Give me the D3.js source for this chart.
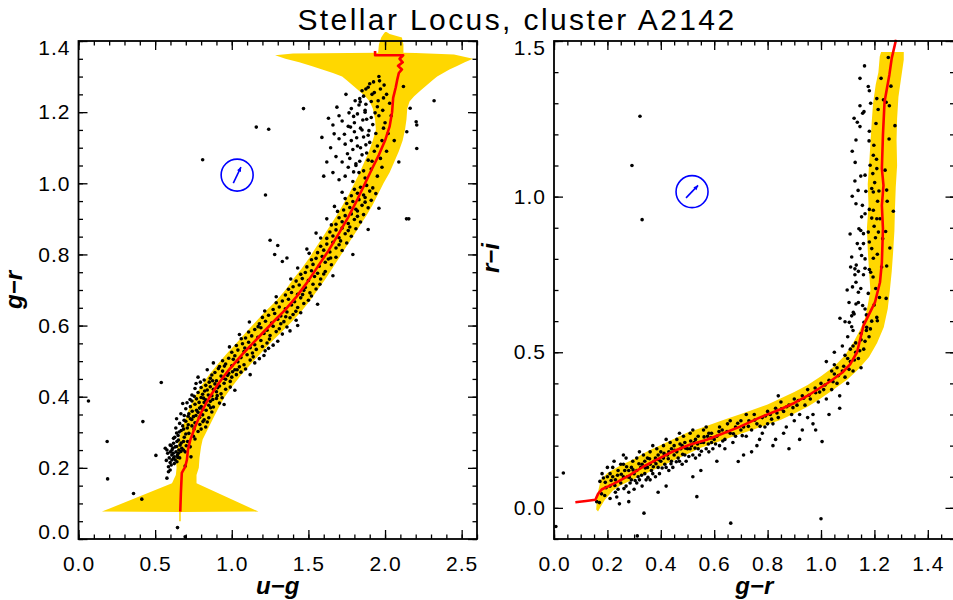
<!DOCTYPE html>
<html>
<head>
<meta charset="utf-8">
<script src="https://cdn.jsdelivr.net/npm/d3@7"></script>
<style>
  body { margin: 0; background: #fff; }
  text { font-family: "Liberation Sans", Arial, sans-serif; }
</style>
</head>
<body>
<svg id="chart" width="953" height="600"></svg>
<script>
// ---- data ----

var title = "Stellar Locus, cluster A2142";

// left panel: u-g vs g-r
var leftXTicks = [0, 0.5, 1.0, 1.5, 2.0, 2.5];
var leftYTicks = [0, 0.2, 0.4, 0.6, 0.8, 1.0, 1.2, 1.4];

// locus band, left edge (bottom -> top) and right edge (top -> bottom), [u-g, g-r]
var leftBandLo = [[0.657,0.05],[0.657,0.076],[0.153,0.077],[0.61,0.157],[0.635,0.18],[0.64,0.20],[0.635,0.23],
  [0.645,0.26],[0.655,0.28],[0.675,0.31],[0.70,0.34],[0.725,0.37],[0.76,0.40],[0.80,0.43],[0.85,0.46],[0.905,0.49],
  [0.965,0.52],[1.03,0.55],[1.09,0.58],[1.155,0.61],[1.22,0.64],[1.29,0.67],[1.35,0.70],[1.40,0.73],[1.455,0.76],
  [1.505,0.79],[1.55,0.82],[1.595,0.85],[1.64,0.88],[1.685,0.91],[1.725,0.94],[1.765,0.97],[1.80,1.00],[1.835,1.03],
  [1.865,1.06],[1.895,1.09],[1.92,1.12],[1.94,1.15],[1.935,1.18],[1.92,1.21],[1.90,1.23],[1.87,1.245],[1.83,1.26],
  [1.79,1.275],[1.75,1.29],[1.72,1.30],[1.66,1.31],[1.59,1.32],[1.52,1.33],[1.44,1.34],[1.35,1.35],[1.283,1.36],
  [1.40,1.365],[1.955,1.367],[1.96,1.39],[1.975,1.41],[1.99,1.42],[2.00,1.425]];
var leftBandHi = [[2.01,1.425],[2.03,1.42],[2.11,1.41],[2.12,1.39],[2.12,1.367],[2.20,1.366],[2.45,1.362],[2.574,1.35],
  [2.52,1.34],[2.47,1.33],[2.42,1.32],[2.38,1.31],[2.34,1.30],[2.31,1.29],[2.27,1.275],[2.23,1.26],[2.19,1.245],
  [2.16,1.23],[2.145,1.21],[2.14,1.18],[2.13,1.15],[2.115,1.12],[2.09,1.09],[2.06,1.06],[2.03,1.03],[1.99,1.00],
  [1.955,0.97],[1.92,0.94],[1.88,0.91],[1.835,0.88],[1.79,0.85],[1.745,0.82],[1.70,0.79],[1.655,0.76],[1.61,0.73],
  [1.56,0.70],[1.51,0.67],[1.455,0.64],[1.39,0.61],[1.32,0.58],[1.25,0.55],[1.185,0.52],[1.12,0.49],[1.06,0.46],
  [1.005,0.43],[0.955,0.40],[0.915,0.37],[0.88,0.34],[0.845,0.31],[0.81,0.28],[0.80,0.26],[0.79,0.23],[0.785,0.20],
  [0.77,0.18],[0.77,0.157],[1.174,0.077],[0.667,0.076],[0.667,0.05]];

// median locus, [u-g, g-r]
var leftLocus = [[0.664,0.077],[0.668,0.13],[0.674,0.186],[0.696,0.203],[0.707,0.222],[0.714,0.25],[0.729,0.278],
  [0.76,0.315],[0.80,0.355],[0.85,0.395],[0.91,0.435],[0.98,0.475],[1.07,0.52],[1.17,0.565],[1.27,0.61],[1.35,0.645],
  [1.42,0.68],[1.49,0.72],[1.56,0.765],[1.63,0.81],[1.70,0.86],[1.76,0.905],[1.82,0.955],[1.87,1.00],[1.92,1.045],
  [1.96,1.08],[2.00,1.12],[2.03,1.16],[2.046,1.20],[2.053,1.24],[2.07,1.27],[2.079,1.29],[2.09,1.31],[2.11,1.32],
  [2.085,1.33],[2.115,1.34],[2.095,1.35],[2.118,1.36],[1.935,1.36],[1.935,1.372]];

// stars, [u-g, g-r]
var leftStars = [
  [0.065,0.388],[0.187,0.274],[0.19,0.169],[0.359,0.128],[0.413,0.112],[0.505,0.235],[0.646,0.032],[0.696,0.006],
  [0.54,0.44],[0.42,0.33],
  [0.566,0.255],[0.577,0.25],[0.598,0.264],[0.62,0.269],[0.631,0.259],[0.642,0.274],[0.663,0.264],[0.674,0.255],
  [0.636,0.245],[0.652,0.241],[0.609,0.236],[0.62,0.227],[0.631,0.222],[0.642,0.217],[0.598,0.215],[0.587,0.203],
  [0.598,0.194],[0.587,0.189],[0.609,0.222],[0.625,0.231],[0.685,0.25],[0.696,0.245],[0.729,0.259],[0.734,0.231],
  [0.696,0.205],[0.577,0.171],[0.652,0.278],[0.685,0.274],[0.61,0.25],[0.64,0.26],[0.655,0.25],[0.67,0.27],
  [0.60,0.245],[0.615,0.255],[0.645,0.235],[0.66,0.228],[0.625,0.212],[0.605,0.208],
  [0.605,0.262],[0.618,0.241],[0.648,0.229],[0.668,0.246],[0.703,0.262],[0.712,0.274],[0.592,0.228],[0.628,0.286],
  [0.657,0.301],[0.686,0.309],[0.716,0.321],[0.739,0.336],[0.754,0.309],[0.792,0.322],[0.812,0.33],[0.689,0.334],
  [0.715,0.345],[0.742,0.359],[0.766,0.347],[0.801,0.372],[0.833,0.362],[0.862,0.369],[0.708,0.383],[0.755,0.401],
  [0.787,0.384],[0.816,0.396],[0.847,0.405],[0.876,0.392],[0.905,0.403],[0.937,0.397],[0.767,0.437],[0.795,0.441],
  [0.823,0.416],[0.853,0.441],[0.875,0.445],[0.908,0.425],[0.943,0.452],[0.973,0.46],[1.005,0.47],[0.84,0.476],
  [0.913,0.479],[0.952,0.486],[0.88,0.495],[1.035,0.476],[0.728,0.392],[0.668,0.352],[0.635,0.312],[0.582,0.241],[0.573,0.221],
  [0.62,0.283],[0.65,0.291],[0.69,0.286],[0.72,0.297],[0.75,0.289],[0.78,0.302],[0.67,0.305],[0.71,0.312],
  [0.74,0.318],[0.64,0.298],[0.80,0.309],[0.70,0.295],[0.76,0.281],[0.83,0.315],[0.68,0.318],
  [0.66,0.325],[0.70,0.331],[0.73,0.338],[0.76,0.327],[0.79,0.342],[0.82,0.335],[0.69,0.347],[0.72,0.352],
  [0.75,0.344],[0.78,0.356],[0.81,0.349],[0.85,0.341],[0.87,0.357],[0.64,0.338],[0.84,0.329],[0.77,0.362],
  [0.70,0.366],[0.73,0.372],[0.76,0.379],[0.79,0.368],[0.82,0.384],[0.85,0.376],[0.88,0.371],[0.74,0.388],
  [0.77,0.394],[0.80,0.398],[0.83,0.391],[0.86,0.387],[0.90,0.395],[0.92,0.382],[0.68,0.381],[0.95,0.378],[0.81,0.364],
  [0.74,0.405],[0.78,0.412],[0.81,0.407],[0.84,0.419],[0.87,0.403],[0.90,0.414],[0.93,0.408],[0.96,0.421],
  [0.80,0.426],[0.83,0.432],[0.86,0.428],[0.89,0.436],[0.92,0.43],[0.95,0.438],[0.99,0.427],[1.02,0.418],[0.76,0.423],[0.88,0.421],
  [0.82,0.447],[0.86,0.452],[0.90,0.445],[0.93,0.458],[0.96,0.449],[1.00,0.455],[1.03,0.462],[0.89,0.468],
  [0.94,0.472],[0.98,0.466],[1.02,0.476],[1.06,0.469],[1.09,0.478],[0.87,0.461],[1.12,0.462],[0.78,0.455],[0.99,0.443],
  [0.92,0.485],[0.96,0.492],[1.00,0.487],[1.04,0.498],[1.08,0.49],[1.12,0.503],[1.15,0.495],[0.98,0.508],
  [1.02,0.515],[1.06,0.51],[1.10,0.518],[1.14,0.512],[1.18,0.507],[0.94,0.501],[1.21,0.516],[1.05,0.484],
  [1.00,0.525],[1.04,0.531],[1.08,0.527],[1.12,0.538],[1.16,0.533],[1.20,0.541],[1.24,0.536],[1.07,0.549],
  [1.11,0.553],[1.15,0.546],[1.19,0.558],[1.23,0.551],[1.27,0.545],[1.03,0.544],[1.30,0.556],
  [1.09,0.565],[1.13,0.571],[1.17,0.567],[1.21,0.578],[1.25,0.572],[1.29,0.583],[1.33,0.576],[1.15,0.589],
  [1.19,0.594],[1.23,0.587],[1.27,0.598],[1.31,0.591],[1.36,0.596],[1.11,0.582],[1.38,0.585],
  [1.18,0.605],[1.22,0.612],[1.26,0.607],[1.30,0.618],[1.34,0.611],[1.38,0.622],[1.42,0.615],[1.24,0.629],
  [1.28,0.634],[1.32,0.627],[1.36,0.638],[1.40,0.631],[1.45,0.636],[1.20,0.623],
  [1.27,0.645],[1.31,0.652],[1.35,0.647],[1.39,0.658],[1.43,0.651],[1.47,0.662],[1.33,0.669],[1.37,0.674],
  [1.41,0.667],[1.45,0.678],[1.50,0.671],[1.29,0.664],
  [1.35,0.686],[1.39,0.693],[1.43,0.688],[1.47,0.699],[1.51,0.692],[1.55,0.703],[1.40,0.709],[1.44,0.714],
  [1.48,0.707],[1.53,0.716],[1.37,0.702],
  [1.42,0.725],[1.46,0.732],[1.50,0.727],[1.54,0.738],[1.58,0.731],[1.48,0.749],[1.52,0.754],[1.56,0.747],
  [1.61,0.752],[1.45,0.744],
  [1.49,0.765],[1.53,0.772],[1.57,0.767],[1.61,0.778],[1.65,0.771],[1.55,0.789],[1.59,0.794],[1.63,0.787],
  [1.68,0.792],[1.52,0.785],
  [1.01,0.505],[1.085,0.537],[1.135,0.523],[1.062,0.563],[1.218,0.529],[1.172,0.597],[1.246,0.562],[1.32,0.605],
  [1.215,0.641],[1.352,0.625],[1.29,0.681],[1.418,0.64],[1.462,0.687],[1.385,0.731],[1.52,0.683],[1.575,0.716],
  [1.43,0.762],[1.6,0.745],[1.505,0.803],[1.645,0.79],[1.58,0.846],[1.71,0.838],[1.65,0.883],[1.77,0.877],
  [1.69,0.921],[1.82,0.922],[1.74,0.957],[1.87,0.96],[1.115,0.61],[1.05,0.575],[0.985,0.54],[1.43,0.60],
  [1.56,0.66],[1.66,0.74],[1.79,0.80],[1.89,0.87],[1.96,0.93],
  [1.25,0.84],[1.30,0.825],[1.36,0.79],[1.28,0.80],[1.33,0.78],[1.22,0.967],
  [1.56,0.805],[1.60,0.812],[1.64,0.807],[1.68,0.818],[1.72,0.811],[1.62,0.829],[1.66,0.834],[1.70,0.827],
  [1.75,0.832],[1.58,0.823],[1.49,0.815],
  [1.62,0.845],[1.66,0.852],[1.70,0.847],[1.74,0.858],[1.78,0.851],[1.68,0.869],[1.72,0.874],[1.76,0.867],
  [1.81,0.872],[1.64,0.863],[1.55,0.86],
  [1.68,0.885],[1.72,0.892],[1.76,0.887],[1.80,0.898],[1.84,0.891],[1.74,0.909],[1.78,0.914],[1.82,0.907],
  [1.86,0.912],[1.70,0.903],[1.62,0.90],
  [1.73,0.925],[1.77,0.932],[1.81,0.927],[1.85,0.938],[1.89,0.931],[1.79,0.949],[1.83,0.954],[1.87,0.947],
  [1.91,0.952],[1.75,0.943],[1.67,0.935],
  [1.78,0.965],[1.82,0.972],[1.86,0.967],[1.90,0.978],[1.94,0.971],[1.84,0.989],[1.88,0.994],[1.92,0.987],
  [1.80,0.983],[1.72,0.975],
  [1.70,1.01],[1.74,1.02],[1.79,1.005],[1.83,1.03],[1.87,1.015],[1.91,1.04],[1.95,1.02],[1.76,1.045],
  [1.81,1.05],[1.86,1.035],[1.66,1.03],[1.98,1.045],
  [1.72,1.06],[1.77,1.07],[1.81,1.055],[1.85,1.08],[1.89,1.065],[1.93,1.09],[1.97,1.07],[1.79,1.095],
  [1.84,1.10],[1.88,1.085],[1.68,1.075],[2.01,1.09],[2.207,1.098],
  [1.74,1.11],[1.78,1.12],[1.82,1.105],[1.86,1.13],[1.90,1.115],[1.94,1.14],[1.98,1.12],[1.80,1.145],
  [1.85,1.15],[1.89,1.135],[1.70,1.125],[2.02,1.14],[1.588,1.129],[1.668,1.139],[2.142,1.145],
  [1.76,1.16],[1.80,1.17],[1.84,1.155],[1.88,1.18],[1.92,1.165],[1.96,1.19],[2.00,1.17],[1.82,1.195],
  [1.87,1.20],[1.91,1.185],[1.72,1.175],[1.66,1.164],[1.631,1.183],[2.203,1.173],[2.207,1.164],[1.241,1.152],
  [2.04,1.19],[1.16,1.158],
  [1.78,1.21],[1.83,1.22],[1.87,1.205],[1.91,1.23],[1.95,1.215],[1.99,1.24],[1.86,1.245],[1.838,1.229],
  [1.686,1.214],[1.468,1.21],[2.164,1.211],[2.32,1.232],[2.03,1.225],
  [1.85,1.26],[1.89,1.27],[1.93,1.255],[1.964,1.288],[1.994,1.276],[2.12,1.272],[1.97,1.265],[1.90,1.28],
  [1.755,1.083],[1.795,1.032],[1.835,1.062],[1.875,1.108],[1.915,1.062],[1.735,1.138],[1.775,1.158],[1.815,1.128],
  [1.855,1.178],[1.895,1.148],[1.935,1.198],[1.795,1.188],[1.835,1.238],[1.875,1.222],[1.915,1.25],[1.955,1.232],
  [1.805,1.232],[1.765,1.198],[1.95,1.105],[1.99,1.155],[1.875,1.265],[1.925,1.285],[1.985,1.205],[1.745,1.25],
  [1.70,1.19],[1.645,1.10],[1.62,1.06],[1.60,1.02],[2.06,1.12],[2.09,1.06],[2.01,1.25],[1.96,1.30],
  [0.81,1.066],[2.14,0.90],[2.155,0.90]
];

// reddening vector: circle centre and arrow, [u-g, g-r]
var leftRedCentre = [1.035, 1.023];
var leftRedVector = [0.05, 0.045];

// right panel: g-r vs r-i
var rightXTicks = [0, 0.2, 0.4, 0.6, 0.8, 1.0, 1.2, 1.4];
var rightYTicks = [0, 0.5, 1.0, 1.5];

// locus band, inner side (bottom -> top) and outer side (top -> bottom), [g-r, r-i]
var rightBandIn = [[0.158,-0.005],[0.162,0.04],[0.175,0.09],[0.20,0.112],[0.25,0.137],[0.30,0.157],[0.35,0.182],
  [0.40,0.202],[0.45,0.222],[0.50,0.242],[0.55,0.257],[0.60,0.272],[0.65,0.287],[0.70,0.302],[0.75,0.317],[0.80,0.332],
  [0.85,0.352],[0.90,0.372],[0.95,0.395],[1.00,0.423],[1.05,0.455],[1.09,0.49],[1.12,0.53],[1.145,0.57],[1.165,0.61],
  [1.175,0.65],[1.185,0.70],[1.18,0.76],[1.175,0.83],[1.172,0.90],[1.178,0.97],[1.175,1.04],[1.18,1.10],[1.185,1.17],
  [1.19,1.24],[1.195,1.30],[1.205,1.36],[1.215,1.40],[1.22,1.45],[1.225,1.465]];
var rightBandOut = [[1.31,1.465],[1.31,1.44],[1.30,1.38],[1.29,1.32],[1.285,1.25],[1.283,1.18],[1.285,1.10],
  [1.28,1.03],[1.277,0.96],[1.275,0.89],[1.27,0.82],[1.265,0.76],[1.258,0.70],[1.25,0.64],[1.235,0.58],[1.21,0.53],
  [1.18,0.485],[1.14,0.445],[1.10,0.413],[1.05,0.382],[1.00,0.352],[0.95,0.325],[0.90,0.303],[0.85,0.283],[0.80,0.268],
  [0.75,0.253],[0.70,0.238],[0.65,0.223],[0.60,0.208],[0.55,0.193],[0.50,0.173],[0.45,0.153],[0.40,0.133],[0.35,0.113],
  [0.30,0.093],[0.25,0.073],[0.22,0.055],[0.19,0.025],[0.172,0.0],[0.165,-0.012]];

// median locus, [g-r, r-i]
var rightLocus = [[0.08,0.018],[0.12,0.022],[0.155,0.026],[0.165,0.045],[0.18,0.06],[0.203,0.069],[0.241,0.085],
  [0.285,0.106],[0.335,0.133],[0.385,0.155],[0.447,0.182],[0.508,0.203],[0.572,0.219],[0.63,0.238],[0.697,0.261],
  [0.77,0.29],[0.846,0.316],[0.90,0.337],[0.959,0.365],[1.034,0.406],[1.08,0.435],[1.109,0.461],[1.135,0.50],
  [1.159,0.585],[1.177,0.617],[1.202,0.66],[1.221,0.725],[1.228,0.789],[1.232,0.897],[1.228,0.972],[1.234,1.036],
  [1.228,1.09],[1.232,1.198],[1.238,1.305],[1.256,1.391],[1.265,1.445],[1.281,1.504]];

// stars, [g-r, r-i]
var rightStars = [
  [0.322,1.258],[0.292,1.10],[0.33,0.926],[0.035,0.112],[0.007,-0.06],[0.312,-0.09],
  [0.16,0.02],[0.172,0.085],[0.185,0.096],[0.19,0.04],[0.20,0.10],[0.18,0.11],[0.17,0.017],[0.195,0.065],[0.21,0.03],[0.20,0.13],
  [0.21,0.07],[0.22,0.10],[0.23,0.05],[0.24,0.12],[0.22,0.13],[0.25,0.08],[0.23,0.09],[0.245,0.013],[0.21,0.11],
  [0.24,0.06],[0.225,0.15],[0.25,0.14],[0.235,0.035],
  [0.26,0.10],[0.27,0.07],[0.28,0.12],[0.29,0.09],[0.26,0.14],[0.27,0.16],[0.28,0.05],[0.29,0.13],[0.30,0.11],
  [0.265,0.12],[0.285,0.08],[0.295,0.15],[0.275,0.10],[0.30,0.06],[0.26,0.17],
  [0.31,0.12],[0.32,0.09],[0.33,0.14],[0.34,0.11],[0.31,0.16],[0.32,0.18],[0.33,0.07],[0.34,0.15],[0.35,0.13],
  [0.315,0.10],[0.335,0.17],[0.345,0.09],[0.325,0.13],[0.337,-0.017],[0.35,0.16],[0.31,0.08],
  [0.36,0.14],[0.37,0.11],[0.38,0.16],[0.39,0.13],[0.36,0.18],[0.37,0.20],[0.38,0.10],[0.39,0.17],[0.40,0.15],
  [0.365,0.12],[0.385,0.19],[0.395,0.11],[0.375,0.15],[0.40,0.18],[0.36,0.09],
  [0.41,0.16],[0.42,0.13],[0.43,0.18],[0.44,0.15],[0.41,0.20],[0.42,0.22],[0.43,0.12],[0.44,0.19],[0.45,0.17],
  [0.415,0.14],[0.435,0.21],[0.445,0.13],[0.425,0.17],[0.45,0.20],
  [0.46,0.18],[0.47,0.15],[0.48,0.20],[0.49,0.17],[0.46,0.22],[0.47,0.24],[0.48,0.14],[0.49,0.21],[0.50,0.19],
  [0.465,0.16],[0.485,0.23],[0.495,0.15],[0.475,0.19],
  [0.51,0.19],[0.52,0.17],[0.53,0.22],[0.54,0.19],[0.51,0.24],[0.52,0.25],[0.53,0.16],[0.54,0.23],[0.55,0.21],
  [0.515,0.20],[0.535,0.036],[0.545,0.17],[0.525,0.21],
  [0.56,0.21],[0.57,0.19],[0.58,0.24],[0.59,0.21],[0.56,0.25],[0.57,0.26],[0.58,0.18],[0.59,0.24],[0.60,0.22],
  [0.575,0.23],[0.595,0.19],
  [0.61,0.23],[0.62,0.20],[0.63,0.25],[0.64,0.22],[0.65,0.27],[0.66,0.24],[0.67,0.21],[0.68,0.26],[0.69,0.149],
  [0.70,0.25],[0.62,0.26],[0.66,0.28],[0.68,0.23],[0.662,-0.049],[0.64,0.19],[0.70,0.28],
  [0.71,0.26],[0.72,0.23],[0.73,0.28],[0.74,0.25],[0.75,0.30],[0.76,0.27],[0.77,0.22],[0.78,0.29],[0.79,0.26],
  [0.80,0.31],[0.72,0.30],[0.76,0.20],[0.78,0.24],[0.74,0.18],[0.80,0.27],
  [0.81,0.30],[0.82,0.27],[0.83,0.32],[0.84,0.29],[0.85,0.34],[0.86,0.31],[0.87,0.26],[0.88,0.33],[0.89,0.30],
  [0.90,0.35],[0.83,0.22],[0.86,0.24],[0.88,0.19],[0.84,0.36],[0.90,0.28],
  [0.91,0.33],[0.92,0.30],[0.93,0.36],[0.94,0.33],[0.95,0.38],[0.96,0.35],[0.97,0.30],[0.98,0.37],[0.99,0.34],
  [1.00,0.40],[0.93,0.25],[0.97,0.27],[1.004,0.213],[1.00,-0.035],[0.95,0.29],
  [1.01,0.38],[1.02,0.35],[1.03,0.41],[1.04,0.38],[1.05,0.43],[1.06,0.40],[1.07,0.36],[1.08,0.44],[1.09,0.42],
  [1.10,0.48],[1.03,0.30],[1.07,0.32],[1.10,0.40],[1.05,0.46],
  [1.11,0.47],[1.12,0.44],[1.13,0.50],[1.14,0.48],[1.15,0.54],[1.16,0.51],[1.17,0.57],[1.18,0.55],[1.12,0.52],
  [1.15,0.45],[1.19,0.60],[1.17,0.62],
  [1.02,0.47],[1.05,0.50],[1.08,0.52],[1.10,0.55],[1.12,0.57],[1.06,0.45],[1.09,0.49],[1.13,0.53],[1.15,0.56],
  [1.04,0.44],[1.11,0.51],
  [0.178,0.045],[0.192,0.082],[0.214,0.088],[0.228,0.072],[0.238,0.105],[0.252,0.108],[0.262,0.062],[0.272,0.132],
  [0.282,0.098],[0.296,0.122],[0.304,0.088],[0.318,0.142],[0.328,0.105],[0.342,0.128],[0.352,0.098],[0.358,0.158],
  [0.372,0.132],[0.382,0.142],[0.392,0.155],[0.405,0.128],[0.412,0.175],[0.428,0.158],[0.438,0.142],[0.452,0.185],
  [0.458,0.148],[0.472,0.205],[0.482,0.172],[0.492,0.192],[0.505,0.165],[0.512,0.215],[0.528,0.192],[0.538,0.205],
  [0.552,0.182],[0.562,0.228],[0.578,0.205],[0.588,0.225],[0.605,0.205],[0.618,0.245],[0.632,0.215],[0.648,0.245],
  [0.672,0.238],[0.688,0.272],[0.705,0.232],[0.728,0.262],[0.752,0.282],[0.772,0.262],[0.792,0.295],[0.815,0.285],
  [0.835,0.305],[0.852,0.318],[0.872,0.325],[0.895,0.322],[0.915,0.345],[0.935,0.352],[0.955,0.362],[0.978,0.385],
  [0.995,0.372],[1.015,0.395],[1.045,0.405],[1.065,0.425],[1.085,0.455],[1.105,0.445],[1.125,0.475],[1.145,0.505],
  [1.165,0.535],[1.185,0.575],
  [0.42,0.07],[0.55,0.12],[0.61,0.15],[0.71,0.17],[0.82,0.20],[0.92,0.22],[0.98,0.25],[0.52,0.10],[0.28,0.02],[0.39,0.05],
  [1.199,0.652],[1.205,0.705],[1.195,0.742],[1.211,0.815],[1.204,0.868],[1.199,0.905],[1.212,0.985],[1.201,1.045],
  [1.208,1.12],[1.198,1.165],[1.206,1.235],[1.214,1.28],[1.225,1.38],[1.262,1.355],[1.255,1.185],[1.248,0.985],
  [1.258,0.835],[1.152,0.935],[1.139,1.02],[1.128,1.11],[1.109,0.88],[1.098,0.70],[1.118,0.71],[1.132,0.78],
  [1.105,0.66],[1.146,1.38],[1.163,1.42],[1.186,1.30],
  [1.252,1.447],[1.209,1.315],[1.234,1.311],[1.244,1.303],[1.256,1.292],[1.277,1.228],[1.177,1.354],[1.181,1.34],
  [1.146,1.292],[1.161,1.273],[1.156,1.268],[1.124,1.252],[1.136,1.239],[1.146,1.225],[1.181,1.21],[1.131,1.182],
  [1.117,1.146],[1.18,1.179],[1.196,1.133],[1.184,1.101],[1.209,1.09],[1.194,1.074],[1.24,1.085],[1.127,1.05],
  [1.149,1.066],[1.165,1.069],[1.168,1.017],[1.19,1.026],[1.196,1.015],[1.217,1.018],[1.246,1.021],[1.117,1.001],
  [1.131,0.977],[1.155,0.972],[1.165,0.945],[1.181,0.959],[1.196,0.956],[1.19,0.931],[1.209,0.929],[1.221,0.929],
  [1.271,0.953],[1.142,0.897],[1.149,0.891],[1.159,0.881],[1.177,0.886],[1.215,0.886],[1.242,0.888],[1.231,0.865],
  [1.136,0.849],[1.146,0.833],[1.159,0.849],[1.181,0.854],[1.19,0.833],[1.115,0.806],[1.152,0.811],[1.165,0.80],
  [1.196,0.802],[1.111,0.774],[1.127,0.768],[1.14,0.76],[1.165,0.77],[1.181,0.766],[1.186,0.757],[1.227,0.774],
  [1.246,0.777],[1.127,0.749],[1.159,0.749],[1.131,0.725],[1.149,0.705],[1.14,0.693],[1.177,0.689],[1.219,0.676],
  [1.244,0.673],[1.131,0.655],[1.14,0.66],[1.121,0.628],[1.156,0.65],[1.165,0.639],[1.115,0.617],[1.124,0.623],
  [1.209,0.612],[1.211,0.601],[1.071,0.609],[1.09,0.598],[1.106,0.596],[1.115,0.582],[1.161,0.596],[1.171,0.58]
];

var rightRedCentre = [0.517, 1.016];
var rightRedVector = [0.045, 0.04];

// ---- drawing ----
function init() {
  var svg = d3.select("#chart");
  var gold = "#FFD700";
  var fontSize = 21;
  var plotTop = 41, plotBottom = 539;

  var panels = [
    { xDom: [0, 2.6], yDom: [0, 1.4], xr: [78.5, 477], xMaj: leftXTicks, xMinStep: 0.1, yMaj: leftYTicks, yMinStep: 0.05,
      lo: leftBandLo, hi: leftBandHi, locus: leftLocus, stars: leftStars, rc: leftRedCentre, rv: leftRedVector,
      xLabel: "u\u2212g", yLabel: "g\u2212r", yLabelX: 22, yLabelY: 290 },
    { xDom: [0, 1.5], yDom: [-0.1, 1.5], xr: [554, 954.5], xMaj: rightXTicks, xMinStep: 0.05, yMaj: rightYTicks, yMinStep: 0.1,
      lo: rightBandIn, hi: rightBandOut, locus: rightLocus, stars: rightStars, rc: rightRedCentre, rv: rightRedVector,
      xLabel: "g\u2212r", yLabel: "r\u2212i", yLabelX: 499, yLabelY: 258 }
  ];

  panels.forEach(function(p) {
    var x = d3.scaleLinear().domain(p.xDom).range(p.xr);
    var y = d3.scaleLinear().domain(p.yDom).range([plotBottom, plotTop]);
    var g = svg.append("g");
    var fmt = d3.format(".1f");

    var line = d3.line().x(function(d) { return x(d[0]); }).y(function(d) { return y(d[1]); });

    // yellow locus band
    g.append("path")
     .attr("d", line(p.lo.concat(p.hi)) + "Z")
     .attr("fill", gold)
     .attr("stroke", "none");

    // stars
    g.selectAll("circle.star")
     .data(p.stars)
     .enter()
     .append("circle")
     .attr("class", "star")
     .attr("cx", function(d) { return x(d[0]); })
     .attr("cy", function(d) { return y(d[1]); })
     .attr("r", 1.8)
     .attr("fill", "black");

    // median locus
    g.append("path")
     .attr("d", line(p.locus))
     .attr("fill", "none")
     .attr("stroke", "#FF0000")
     .attr("stroke-width", 2.6)
     .attr("stroke-linejoin", "round");

    // reddening vector
    var cx = x(p.rc[0]), cy = y(p.rc[1]);
    g.append("circle")
     .attr("cx", cx).attr("cy", cy).attr("r", 16)
     .attr("fill", "none").attr("stroke", "#0000FF").attr("stroke-width", 1.6);
    var x1 = x(p.rc[0] - p.rv[0] / 2), y1 = y(p.rc[1] - p.rv[1] / 2);
    var x2 = x(p.rc[0] + p.rv[0] / 2), y2 = y(p.rc[1] + p.rv[1] / 2);
    g.append("line")
     .attr("x1", x1).attr("y1", y1).attr("x2", x2).attr("y2", y2)
     .attr("stroke", "#0000FF").attr("stroke-width", 1.6);
    var ang = Math.atan2(y2 - y1, x2 - x1), hl = 5;
    g.append("path")
     .attr("d", "M" + x2 + "," + y2 +
                "L" + (x2 - hl * Math.cos(ang - 0.45)) + "," + (y2 - hl * Math.sin(ang - 0.45)) +
                "L" + (x2 - hl * Math.cos(ang + 0.45)) + "," + (y2 - hl * Math.sin(ang + 0.45)) + "Z")
     .attr("fill", "#0000FF");

    // axes: ticks point inward on all four sides
    var xMin = d3.range(p.xDom[0], p.xDom[1] + 1e-9, p.xMinStep);
    var yMin = d3.range(p.yDom[0], p.yDom[1] + 1e-9, p.yMinStep);

    function axisPair(gen, scale, minors, majors, pos, labels) {
      var ga = g.append("g").attr("transform", pos);
      ga.call(gen(scale).tickValues(minors).tickSizeInner(-4.5).tickSizeOuter(0).tickFormat(""));
      var gm = g.append("g").attr("transform", pos);
      gm.call(gen(scale).tickValues(majors).tickSizeInner(-9).tickSizeOuter(0)
          .tickPadding(gen === d3.axisBottom ? 17 : 8)
          .tickFormat(labels ? fmt : ""));
      [ga, gm].forEach(function(a) {
        a.select(".domain").remove();
        a.selectAll("line").attr("stroke", "black").attr("stroke-width", 1.3);
        a.selectAll("text").attr("font-size", fontSize).attr("fill", "black")
         .attr("font-family", "'Liberation Sans', Arial, sans-serif").attr("letter-spacing", 1);
      });
      if (!labels) gm.selectAll("text").remove();
      return gm;
    }

    axisPair(d3.axisBottom, x, xMin, p.xMaj, "translate(0," + plotBottom + ")", true);
    axisPair(d3.axisTop, x, xMin, p.xMaj, "translate(0," + plotTop + ")", false);
    var ly = axisPair(d3.axisLeft, y, yMin, p.yMaj, "translate(" + p.xr[0] + ",0)", true);
    axisPair(d3.axisRight, y, yMin, p.yMaj, "translate(" + p.xr[1] + ",0)", false);

    // keep the end labels inside the frame height
    ly.selectAll(".tick").each(function(d) {
      var ty = y(d), t = d3.select(this).select("text");
      if (ty > plotBottom - 7) t.attr("y", (plotBottom - 7) - ty);
      if (ty < plotTop + 6.5) t.attr("y", (plotTop + 6.5) - ty);
    });

    // frame
    g.append("rect")
     .attr("x", p.xr[0]).attr("y", plotTop)
     .attr("width", p.xr[1] - p.xr[0]).attr("height", plotBottom - plotTop)
     .attr("fill", "none").attr("stroke", "black").attr("stroke-width", 1.8);

    // axis titles
    g.append("text")
     .attr("x", (p.xr[0] + p.xr[1]) / 2).attr("y", 594)
     .attr("text-anchor", "middle")
     .attr("font-family", "'Liberation Serif', 'DejaVu Serif', serif")
     .attr("font-style", "italic").attr("font-weight", "bold").attr("font-size", 24)
     .text(p.xLabel);
    g.append("text")
     .attr("transform", "translate(" + p.yLabelX + "," + p.yLabelY + ") rotate(-90)")
     .attr("text-anchor", "middle")
     .attr("font-family", "'Liberation Serif', 'DejaVu Serif', serif")
     .attr("font-style", "italic").attr("font-weight", "bold").attr("font-size", 24)
     .text(p.yLabel);
  });

  svg.append("text")
     .attr("x", 517).attr("y", 30)
     .attr("text-anchor", "middle")
     .attr("font-size", 30)
     .attr("letter-spacing", 2.4)
     .text(title);
}

window.onload = init;
</script>
</body>
</html>
